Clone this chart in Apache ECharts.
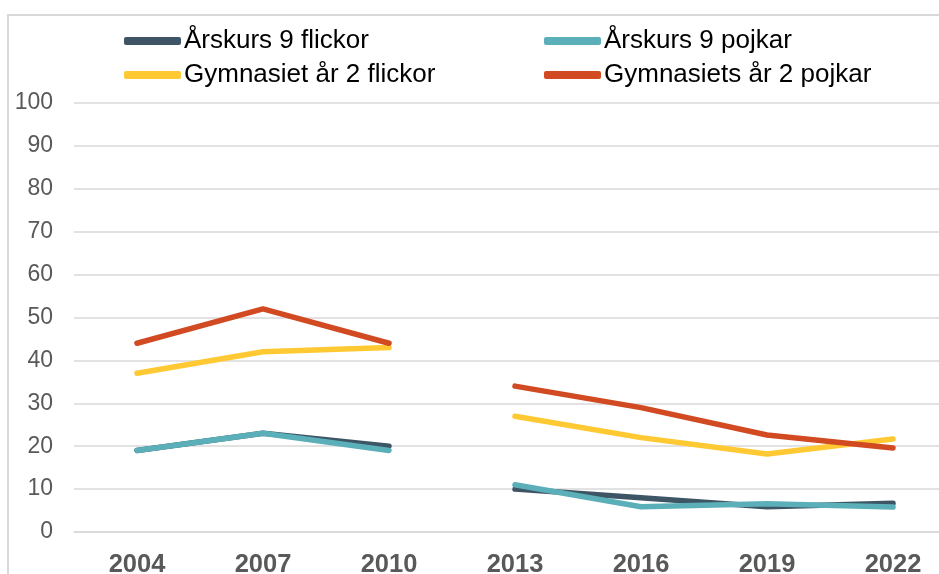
<!DOCTYPE html>
<html>
<head>
<meta charset="utf-8">
<script src="https://cdn.jsdelivr.net/npm/echarts@6/dist/echarts.min.js"></script>
<style>
  html, body { margin: 0; padding: 0; background: #fff; }
  #chart { width: 939px; height: 574px; }
</style>
</head>
<body>
<div id="chart"></div>
<script>
const years = ['2004', '2007', '2010', '2013', '2016', '2019', '2022']
const yTicks = [0, 100, 10]

// value per year; the line is broken between 2010 and 2013
const ak9Flickor = [19, 23, 20, 10, 8, 5.9, 6.7]
const ak9Pojkar = [19, 23, 19, 11, 5.9, 6.6, 5.8]
const gymFlickor = [37, 42, 43, 27, 22, 18.2, 21.7]
const gymPojkar = [44, 52, 44, 34, 29, 22.6, 19.6]

const names = ['Årskurs 9 flickor', 'Årskurs 9 pojkar', 'Gymnasiet år 2 flickor', 'Gymnasiets år 2 pojkar']
const colors = ['#3d5564', '#5aafb9', '#ffc934', '#d24a22']

const chart = echarts.init(document.getElementById('chart'))

function segments(name, values, color) {
  const first = values.map((v, i) => (i <= 2 ? v : null))
  const second = values.map((v, i) => (i >= 3 ? v : null))
  return [first, second].map(function (data) {
    return {
      name: name,
      type: 'line',
      data: data,
      symbol: 'none',
      color: color,
      lineStyle: { width: 5.5, color: color, cap: 'round', join: 'round' },
      animation: false,
    }
  })
}

const series = [].concat(
  segments(names[0], ak9Flickor, colors[0]),
  segments(names[1], ak9Pojkar, colors[1]),
  segments(names[2], gymFlickor, colors[2]),
  segments(names[3], gymPojkar, colors[3])
)

const font = 'Liberation Sans, Arial, sans-serif'
const legendText = { fontSize: 26, color: '#000', fontFamily: font, padding: [0, 0, 0, -2] }

const option = {
  backgroundColor: '#fff',
  graphic: [
    {
      type: 'rect',
      shape: { x: 8, y: 15, width: 1200, height: 1200 },
      style: { fill: 'none', stroke: '#d9d9d9', lineWidth: 2 },
      z: -1,
    },
  ],
  legend: [
    {
      data: [names[0], names[2]],
      orient: 'vertical',
      left: 119,
      top: 23,
      itemGap: 8,
      itemWidth: 57,
      itemHeight: 8,
      icon: 'roundRect',
      textStyle: legendText,
    },
    {
      data: [names[1], names[3]],
      orient: 'vertical',
      left: 539,
      top: 23,
      itemGap: 8,
      itemWidth: 57,
      itemHeight: 8,
      icon: 'roundRect',
      textStyle: legendText,
    },
  ],
  grid: {
    left: 74,
    top: 103,
    width: 882,
    bottom: 42,
    outerBoundsMode: 'none',
  },
  xAxis: {
    type: 'category',
    data: years,
    boundaryGap: true,
    axisLine: { lineStyle: { color: '#d9d9d9', width: 1.5 } },
    axisTick: { show: false },
    axisLabel: {
      margin: 20,
      fontSize: 25.5,
      fontWeight: 'bold',
      color: '#595959',
      fontFamily: font,
    },
  },
  yAxis: {
    type: 'value',
    min: yTicks[0],
    max: yTicks[1],
    interval: yTicks[2],
    axisLine: { show: false },
    axisTick: { show: false },
    splitLine: { lineStyle: { color: '#d9d9d9', width: 1.5 } },
    axisLabel: {
      margin: 21,
      fontSize: 23,
      color: '#595959',
      fontFamily: font,
    },
  },
  series: series,
}

chart.setOption(option)
</script>
</body>
</html>
